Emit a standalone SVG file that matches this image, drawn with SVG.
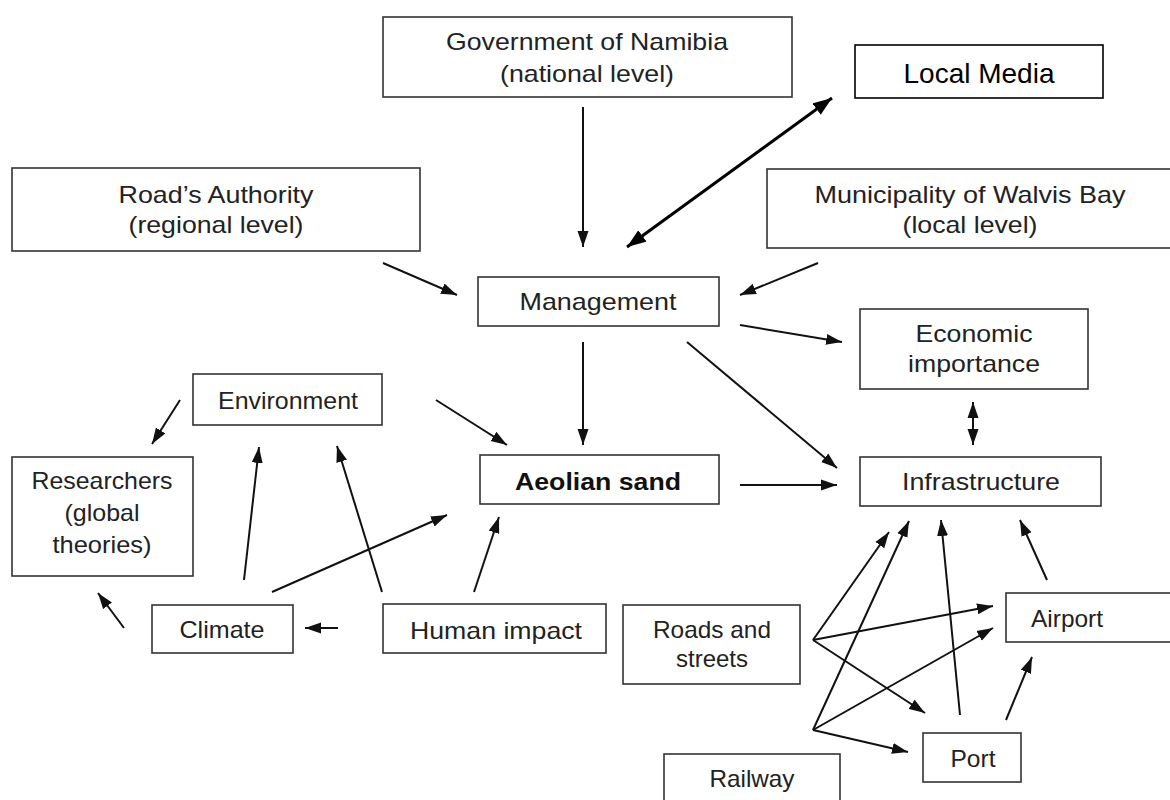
<svg xmlns="http://www.w3.org/2000/svg" width="1170" height="800" viewBox="0 0 1170 800">
  <style>
    .box { fill: #fff; stroke: #333; stroke-width: 1.6; }
    .lbl { font-family: "Liberation Sans", Arial, sans-serif; font-size: 24px; fill: #222; text-anchor: middle; }
    .bold { font-weight: bold; fill: #111; }
    .media { font-size: 28px; fill: #000; }
    .c { fill: none; stroke: #111; stroke-width: 2; }
    .thick { stroke: #000; stroke-width: 3; }
  </style>
  <defs>
    <marker id="head" markerUnits="userSpaceOnUse" markerWidth="17" markerHeight="12" refX="16" refY="6" orient="auto-start-reverse">
      <path d="M0,0.5 L16,6 L0,11.5 Z" fill="#111"/>
    </marker>
    <marker id="headBig" markerUnits="userSpaceOnUse" markerWidth="20" markerHeight="15" refX="19" refY="7.5" orient="auto-start-reverse">
      <path d="M0,0.5 L19,7.5 L0,14.5 Z" fill="#000"/>
    </marker>
  </defs>

  <rect width="1170" height="800" fill="#fff"/>

  <g id="connectors">
    <line class="c" x1="583" y1="107" x2="583" y2="247" marker-end="url(#head)"/>
    <line class="c thick" x1="627" y1="247" x2="832" y2="98" marker-start="url(#headBig)" marker-end="url(#headBig)"/>
    <line class="c" x1="383" y1="263" x2="457" y2="295" marker-end="url(#head)"/>
    <line class="c" x1="818" y1="263" x2="740" y2="295" marker-end="url(#head)"/>
    <line class="c" x1="740" y1="325" x2="842" y2="342" marker-end="url(#head)"/>
    <line class="c" x1="687" y1="342" x2="837" y2="468" marker-end="url(#head)"/>
    <line class="c" x1="583" y1="342" x2="583" y2="445" marker-end="url(#head)"/>
    <line class="c" x1="436" y1="400" x2="507" y2="445" marker-end="url(#head)"/>
    <line class="c" x1="740" y1="485" x2="837" y2="485" marker-end="url(#head)"/>
    <line class="c" x1="973" y1="402" x2="973" y2="445" marker-start="url(#head)" marker-end="url(#head)"/>
    <line class="c" x1="180" y1="400" x2="152" y2="444" marker-end="url(#head)"/>
    <line class="c" x1="124" y1="628" x2="98" y2="593" marker-end="url(#head)"/>
    <line class="c" x1="338" y1="628" x2="305" y2="628" marker-end="url(#head)"/>
    <line class="c" x1="244" y1="580" x2="259" y2="447" marker-end="url(#head)"/>
    <line class="c" x1="382" y1="592" x2="337" y2="446" marker-end="url(#head)"/>
    <line class="c" x1="272" y1="592" x2="447" y2="515" marker-end="url(#head)"/>
    <line class="c" x1="474" y1="592" x2="499" y2="517" marker-end="url(#head)"/>
    <line class="c" x1="813" y1="640" x2="889" y2="532" marker-end="url(#head)"/>
    <line class="c" x1="813" y1="640" x2="993" y2="606" marker-end="url(#head)"/>
    <line class="c" x1="813" y1="640" x2="925" y2="713" marker-end="url(#head)"/>
    <line class="c" x1="813" y1="730" x2="909" y2="521" marker-end="url(#head)"/>
    <line class="c" x1="813" y1="730" x2="993" y2="628" marker-end="url(#head)"/>
    <line class="c" x1="813" y1="730" x2="908" y2="752" marker-end="url(#head)"/>
    <line class="c" x1="960" y1="715" x2="941" y2="520" marker-end="url(#head)"/>
    <line class="c" x1="1006" y1="720" x2="1032" y2="657" marker-end="url(#head)"/>
    <line class="c" x1="1047" y1="580" x2="1020" y2="520" marker-end="url(#head)"/>
  </g>

  <g id="government">
    <rect class="box" x="383" y="17" width="409" height="80"/>
    <text class="lbl" x="587" y="50" textLength="282" lengthAdjust="spacingAndGlyphs">Government of Namibia</text>
    <text class="lbl" x="587" y="82" textLength="174" lengthAdjust="spacingAndGlyphs">(national level)</text>
  </g>
  <g id="local-media">
    <rect class="box" x="855" y="45" width="248" height="53" style="stroke:#000"/>
    <text class="lbl media" x="979" y="83">Local Media</text>
  </g>
  <g id="roads-authority">
    <rect class="box" x="12" y="168" width="408" height="83"/>
    <text class="lbl" x="216" y="203" textLength="195" lengthAdjust="spacingAndGlyphs">Road’s Authority</text>
    <text class="lbl" x="216" y="233" textLength="175" lengthAdjust="spacingAndGlyphs">(regional level)</text>
  </g>
  <g id="municipality">
    <rect class="box" x="767" y="169" width="410" height="79"/>
    <text class="lbl" x="970" y="203" textLength="311" lengthAdjust="spacingAndGlyphs">Municipality of Walvis Bay</text>
    <text class="lbl" x="970" y="233" textLength="135" lengthAdjust="spacingAndGlyphs">(local level)</text>
  </g>
  <g id="management">
    <rect class="box" x="478" y="277" width="241" height="49"/>
    <text class="lbl" x="598" y="310" textLength="157" lengthAdjust="spacingAndGlyphs">Management</text>
  </g>
  <g id="economic-importance">
    <rect class="box" x="860" y="309" width="228" height="80"/>
    <text class="lbl" x="974" y="342" textLength="117" lengthAdjust="spacingAndGlyphs">Economic</text>
    <text class="lbl" x="974" y="372" textLength="132" lengthAdjust="spacingAndGlyphs">importance</text>
  </g>
  <g id="environment">
    <rect class="box" x="193" y="374" width="189" height="51"/>
    <text class="lbl" x="288" y="409" textLength="140" lengthAdjust="spacingAndGlyphs">Environment</text>
  </g>
  <g id="aeolian-sand">
    <rect class="box" x="480" y="455" width="239" height="49"/>
    <text class="lbl bold" x="598" y="490" textLength="166" lengthAdjust="spacingAndGlyphs">Aeolian sand</text>
  </g>
  <g id="infrastructure">
    <rect class="box" x="860" y="457" width="241" height="49"/>
    <text class="lbl" x="981" y="490" textLength="158" lengthAdjust="spacingAndGlyphs">Infrastructure</text>
  </g>
  <g id="researchers">
    <rect class="box" x="12" y="457" width="181" height="119"/>
    <text class="lbl" x="102" y="489" textLength="141" lengthAdjust="spacingAndGlyphs">Researchers</text>
    <text class="lbl" x="102" y="521" textLength="75" lengthAdjust="spacingAndGlyphs">(global</text>
    <text class="lbl" x="102" y="553" textLength="99" lengthAdjust="spacingAndGlyphs">theories)</text>
  </g>
  <g id="climate">
    <rect class="box" x="152" y="605" width="141" height="48"/>
    <text class="lbl" x="222" y="638" textLength="85" lengthAdjust="spacingAndGlyphs">Climate</text>
  </g>
  <g id="human-impact">
    <rect class="box" x="383" y="604" width="223" height="49"/>
    <text class="lbl" x="496" y="639" textLength="172" lengthAdjust="spacingAndGlyphs">Human impact</text>
  </g>
  <g id="roads-and-streets">
    <rect class="box" x="623" y="605" width="177" height="79"/>
    <text class="lbl" x="712" y="638" textLength="118" lengthAdjust="spacingAndGlyphs">Roads and</text>
    <text class="lbl" x="712" y="667" textLength="72" lengthAdjust="spacingAndGlyphs">streets</text>
  </g>
  <g id="airport">
    <rect class="box" x="1006" y="593" width="170" height="49"/>
    <text class="lbl" x="1067" y="627" textLength="72" lengthAdjust="spacingAndGlyphs">Airport</text>
  </g>
  <g id="port">
    <rect class="box" x="923" y="733" width="98" height="49"/>
    <text class="lbl" x="973" y="767" textLength="45" lengthAdjust="spacingAndGlyphs">Port</text>
  </g>
  <g id="railway">
    <rect class="box" x="664" y="754" width="176" height="60"/>
    <text class="lbl" x="752" y="787" textLength="85" lengthAdjust="spacingAndGlyphs">Railway</text>
  </g>
</svg>
